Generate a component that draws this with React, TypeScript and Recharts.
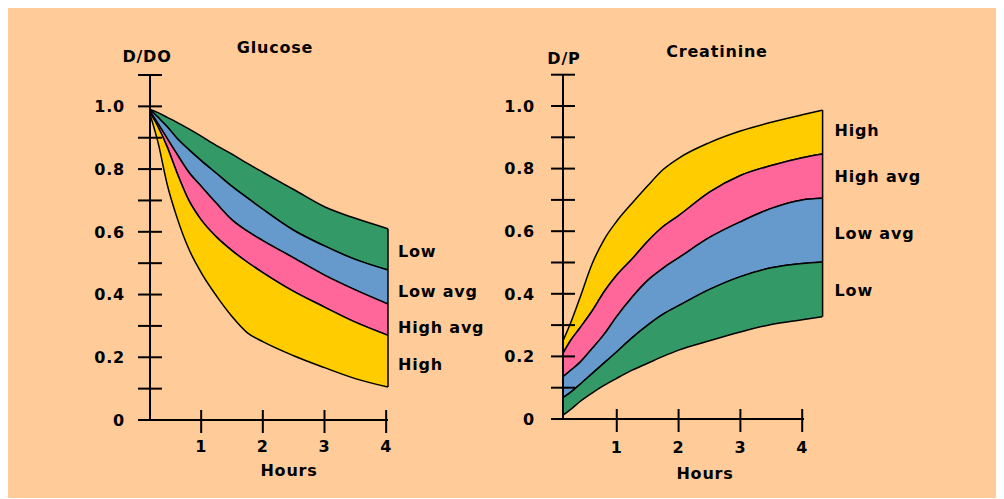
import React from 'react';
import { ComposedChart, Area, XAxis, YAxis, ReferenceLine, ReferenceDot } from 'recharts';

// ---------- data ----------
const yTicks = [0, 0.1, 0.2, 0.3, 0.4, 0.5, 0.6, 0.7, 0.8, 0.9, 1.0, 1.1];
const yTickLabels = ['0', '', '0.2', '', '0.4', '', '0.6', '', '0.8', '', '1.0', ''];
const xTicks = [1, 2, 3, 4];
const xTickLabels = ['1', '2', '3', '4'];

// Glucose (D/D0) boundaries, top to bottom
const glucoseHours = [0.17, 0.3, 0.45, 0.6, 0.8, 1, 1.25, 1.5, 1.75, 2, 2.5, 3, 3.5, 4.03];
const glucoseLowTop = [0.99, 0.98, 0.965, 0.95, 0.928, 0.905, 0.875, 0.848, 0.818, 0.79, 0.735, 0.68, 0.643, 0.61];
const glucoseLowAvgTop = [0.99, 0.965, 0.935, 0.9, 0.862, 0.827, 0.786, 0.745, 0.708, 0.672, 0.605, 0.555, 0.512, 0.478];
const glucoseHighAvgTop = [0.985, 0.945, 0.897, 0.85, 0.79, 0.745, 0.69, 0.638, 0.602, 0.572, 0.517, 0.462, 0.415, 0.37];
const glucoseHighTop = [0.98, 0.935, 0.87, 0.792, 0.7, 0.638, 0.583, 0.54, 0.503, 0.47, 0.41, 0.36, 0.312, 0.27];
const glucoseHighBottom = [0.975, 0.885, 0.75, 0.65, 0.545, 0.47, 0.395, 0.33, 0.278, 0.25, 0.205, 0.167, 0.132, 0.105];
const glucoseSideLabels = ['Low', 'Low avg', 'High avg', 'High'];
const glucoseSideValues = [0.537, 0.409, 0.297, 0.179];

// Creatinine (D/P) boundaries, top to bottom
const creatHours = [0.13, 0.25, 0.4, 0.6, 0.8, 1, 1.25, 1.5, 1.75, 2, 2.5, 3, 3.5, 4, 4.33];
const creatHighTop = [0.25, 0.305, 0.385, 0.495, 0.575, 0.632, 0.69, 0.745, 0.797, 0.833, 0.883, 0.92, 0.948, 0.972, 0.987];
const creatHighAvgTop = [0.21, 0.25, 0.29, 0.345, 0.408, 0.46, 0.512, 0.568, 0.615, 0.65, 0.725, 0.778, 0.81, 0.835, 0.847];
const creatLowAvgTop = [0.135, 0.155, 0.18, 0.225, 0.272, 0.328, 0.39, 0.443, 0.482, 0.515, 0.58, 0.63, 0.673, 0.7, 0.705];
const creatLowTop = [0.068, 0.085, 0.11, 0.145, 0.18, 0.215, 0.26, 0.3, 0.335, 0.362, 0.414, 0.455, 0.483, 0.497, 0.502];
const creatLowBottom = [0.012, 0.03, 0.055, 0.083, 0.108, 0.13, 0.156, 0.178, 0.2, 0.22, 0.25, 0.278, 0.302, 0.317, 0.327];
const creatSideLabels = ['High', 'High avg', 'Low avg', 'Low'];
const creatSideValues = [0.923, 0.774, 0.595, 0.412];

const GREEN = '#339966';
const BLUE = '#6699CC';
const PINK = '#FF6699';
const YELLOW = '#FFCC00';

const FONT: React.CSSProperties = {
  fontFamily: '"DejaVu Sans", sans-serif',
  fontWeight: 700,
  fontSize: 16,
  letterSpacing: 0.8,
};

type Cfg = {
  left: number;
  width: number;
  height: number;
  margin: { top: number; right: number; bottom: number; left: number };
  yAxisWidth: number;
  xAxisHeight: number;
  hours: number[];
  bounds: number[][];
  colors: string[];
  xAxisEnd: number;
  title: string;
  unit: string;
  titleDx: number;
  titleDy: number;
  unitDx: number;
  unitDy: number;
  hoursDx: number;
  hoursDy: number;
  yLabelGap: number;
  xLabelGap: number;
  sideLabels: string[];
  sideValues: number[];
  sideDx: number;
};

const glucoseCfg: Cfg = {
  left: 0,
  width: 480,
  height: 490,
  margin: { top: 67, right: 100, bottom: 0, left: 0 },
  yAxisWidth: 142,
  xAxisHeight: 78,
  hours: glucoseHours,
  bounds: [glucoseLowTop, glucoseLowAvgTop, glucoseHighAvgTop, glucoseHighTop, glucoseHighBottom],
  colors: [GREEN, BLUE, PINK, YELLOW],
  xAxisEnd: 4.03,
  title: 'Glucose',
  unit: 'D/DO',
  titleDx: 125,
  titleDy: -27.5,
  unitDx: -3,
  unitDy: -18.5,
  hoursDx: 139,
  hoursDy: 50.7,
  yLabelGap: 25,
  xLabelGap: 26,
  sideLabels: glucoseSideLabels,
  sideValues: glucoseSideValues,
  sideDx: 11,
};

const creatCfg: Cfg = {
  left: 480,
  width: 500,
  height: 490,
  margin: { top: 66.7, right: 165.4, bottom: 0, left: 0 },
  yAxisWidth: 75,
  xAxisHeight: 79,
  hours: creatHours,
  bounds: [creatHighTop, creatHighAvgTop, creatLowAvgTop, creatLowTop, creatLowBottom],
  colors: [YELLOW, PINK, BLUE, GREEN],
  xAxisEnd: 4.03,
  title: 'Creatinine',
  unit: 'D/P',
  titleDx: 154,
  titleDy: -23.7,
  unitDx: 1,
  unitDy: -16,
  hoursDx: 142,
  hoursDy: 54.3,
  yLabelGap: 28,
  xLabelGap: 28,
  sideLabels: creatSideLabels,
  sideValues: creatSideValues,
  sideDx: 13,
};

function labelFor(values: number[], labels: string[], v: number) {
  const i = values.findIndex((t) => Math.abs(t - v) < 1e-6);
  return i >= 0 ? labels[i] : '';
}

function Panel({ cfg }: { cfg: Cfg }) {
  const data = cfg.hours.map((h, i) => {
    const row: any = { h };
    cfg.bounds.forEach((b, k) => {
      row['b' + k] = b[i];
    });
    return row;
  });
  const last = cfg.hours.length - 1;
  const xMin = cfg.hours[0];
  const xMax = cfg.hours[last];
  const topB = cfg.bounds[0];
  const botB = cfg.bounds[cfg.bounds.length - 1];

  const YTick = (p: any) => {
    const { x, y, payload } = p;
    const txt = labelFor(yTicks, yTickLabels, payload.value);
    return (
      <g>
        <line x1={x - 12} x2={x + 12} y1={y} y2={y} stroke="#000" strokeWidth={2} />
        {txt !== '' && (
          <text x={x - cfg.yLabelGap} y={y} dy="0.36em" textAnchor="end" fill="#000" style={FONT}>
            {txt}
          </text>
        )}
      </g>
    );
  };

  const XTick = (p: any) => {
    const { x, y, payload } = p;
    const txt = labelFor(xTicks, xTickLabels, payload.value);
    return (
      <g>
        <line x1={x} x2={x} y1={y - 10} y2={y + 13} stroke="#000" strokeWidth={2} />
        <text x={x} y={y + cfg.xLabelGap} dy="0.36em" textAnchor="middle" fill="#000" style={FONT}>
          {txt}
        </text>
      </g>
    );
  };

  const YLabel = (p: any) => {
    const vb = p.viewBox || {};
    const ax = vb.x + vb.width;
    const top = vb.y;
    return (
      <g>
        <text x={ax + cfg.unitDx} y={top + cfg.unitDy} dy="0.36em" textAnchor="middle" fill="#000" style={FONT}>
          {cfg.unit}
        </text>
        <text x={ax + cfg.titleDx} y={top + cfg.titleDy} dy="0.36em" textAnchor="middle" fill="#000" style={FONT}>
          {cfg.title}
        </text>
      </g>
    );
  };

  const XLabel = (p: any) => {
    const vb = p.viewBox || {};
    return (
      <text x={vb.x + cfg.hoursDx} y={vb.y + cfg.hoursDy} dy="0.36em" textAnchor="middle" fill="#000" style={FONT}>
        Hours
      </text>
    );
  };

  return (
    <div style={{ position: 'absolute', left: cfg.left, top: 0 }}>
      <ComposedChart width={cfg.width} height={cfg.height} data={data} margin={cfg.margin}>
        <XAxis
          type="number"
          dataKey="h"
          domain={[xMin, xMax]}
          ticks={xTicks}
          interval={0}
          allowDataOverflow
          axisLine={false}
          tickLine={false}
          tickSize={0}
          tickMargin={0}
          height={cfg.xAxisHeight}
          tick={XTick}
          label={XLabel}
        />
        <YAxis
          type="number"
          domain={[0, 1.1]}
          ticks={yTicks}
          interval={0}
          allowDataOverflow
          axisLine={{ stroke: '#000', strokeWidth: 2 }}
          tickLine={false}
          tickSize={0}
          tickMargin={0}
          width={cfg.yAxisWidth}
          tick={YTick}
          label={YLabel}
        />
        {cfg.colors.map((c, k) => (
          <Area
            key={k}
            type="monotone"
            dataKey={(d: any) => [d['b' + (k + 1)], d['b' + k]]}
            fill={c}
            fillOpacity={1}
            stroke="#000"
            strokeWidth={1.5}
            dot={false}
            activeDot={false}
            isAnimationActive={false}
          />
        ))}
        <ReferenceLine
          segment={[
            { x: xMax, y: botB[last] },
            { x: xMax, y: topB[last] },
          ]}
          stroke="#000"
          strokeWidth={1.5}
        />
        <ReferenceLine
          segment={[
            { x: xMin, y: 0 },
            { x: cfg.xAxisEnd, y: 0 },
          ]}
          stroke="#000"
          strokeWidth={2}
        />
        {cfg.sideLabels.map((s, i) => (
          <ReferenceDot
            key={s}
            x={xMax}
            y={cfg.sideValues[i]}
            r={1}
            fillOpacity={0}
            stroke="none"
            label={(p: any) => {
              const vb = p.viewBox || {};
              return (
                <text x={vb.x + cfg.sideDx} y={vb.y + (vb.height || 0) / 2} dy="0.36em" textAnchor="start" fill="#000" style={FONT}>
                  {s}
                </text>
              );
            }}
          />
        ))}
      </ComposedChart>
    </div>
  );
}

export default function App() {
  return (
    <div style={{ position: 'relative', width: 996, height: 490, background: '#FFCC99' }}>
      <Panel cfg={glucoseCfg} />
      <Panel cfg={creatCfg} />
    </div>
  );
}
